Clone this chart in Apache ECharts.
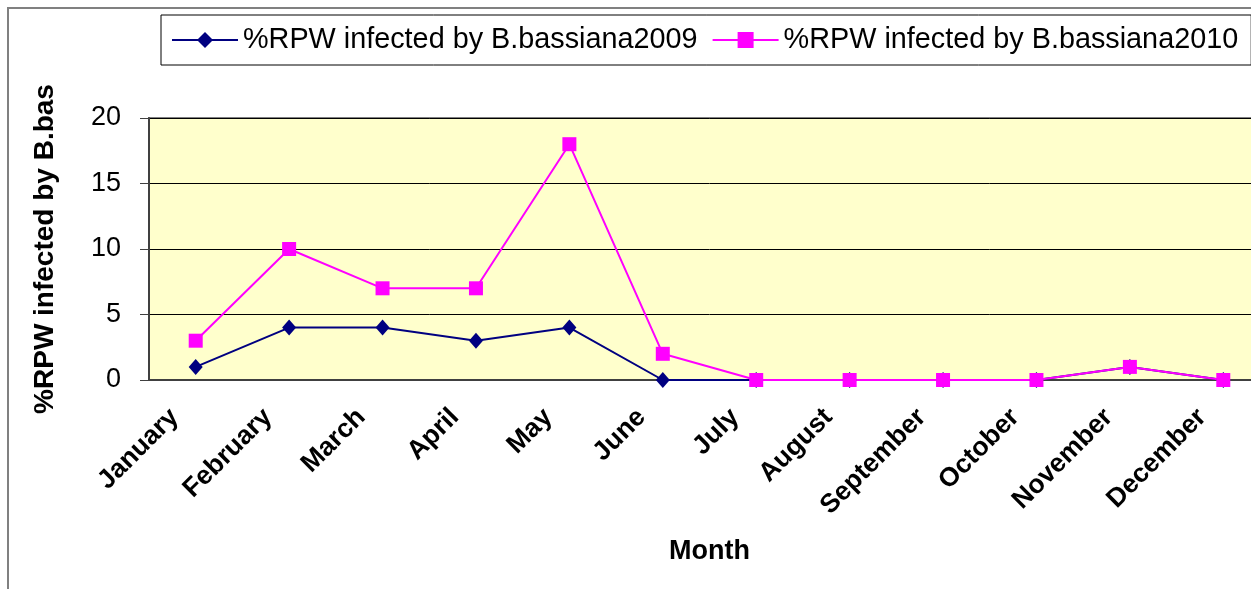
<!DOCTYPE html>
<html>
<head>
<meta charset="utf-8">
<script src="https://cdn.jsdelivr.net/npm/echarts@6/dist/echarts.min.js"></script>
<style>
    html, body { margin: 0; padding: 0; background: #fff; overflow: hidden; }
    /* 绘图区右侧在原图中被裁掉 所以容器比窗口略宽 */
    #chart { width: 1270px; height: 589px; }
</style>
</head>
<body>
<div id="chart"></div>
<script>
const months = ['January', 'February', 'March', 'April', 'May', 'June',
    'July', 'August', 'September', 'October', 'November', 'December']
const infected2009 = [1, 4, 4, 3, 4, 0, 0, 0, 0, 0, 1, 0]
const infected2010 = [3, 10, 7, 7, 18, 2, 0, 0, 0, 0, 1, 0]
const yTicks = [0, 5, 10, 15, 20]

const FONT = '"Liberation Sans", Arial, sans-serif'

window.addEventListener('load', renderChart)

function renderChart() {
    const chart = echarts.init(document.querySelector('#chart'))

    const option = {
        animation: false,
        textStyle: { fontFamily: FONT },
        // 外框
        graphic: [
            {
                type: 'rect',
                shape: { x: 8, y: 8, width: 1300, height: 700 },
                style: { fill: 'none', stroke: '#808080', lineWidth: 2 },
                silent: true,
            }
        ],
        legend: {
            left: 161,
            top: 15,
            padding: [10, 13, 10, 10],
            itemGap: 14,
            itemWidth: 66,
            itemHeight: 20,
            borderColor: '#000',
            borderWidth: 1,
            textStyle: {
                fontFamily: FONT,
                fontSize: 28.8,
                color: '#000',
                lineHeight: 30,
            },
        },
        grid: {
            left: 149,
            top: 118,
            right: 0,
            height: 262,
            show: true,
            backgroundColor: '#FFFFCC',
            borderColor: '#808080',
            borderWidth: 2,
        },
        xAxis: {
            type: 'category',
            data: months,
            boundaryGap: true,
            name: 'Month',
            nameLocation: 'middle',
            nameGap: 158,
            nameTextStyle: {
                fontFamily: FONT,
                fontSize: 27,
                fontWeight: 'bold',
                color: '#000',
            },
            axisLine: { lineStyle: { color: '#404040', width: 2 } },
            axisTick: { length: 9, lineStyle: { color: '#404040' } },
            axisLabel: {
                rotate: 45,
                interval: 0,
                margin: 12,
                padding: [0, 30, 0, 0],
                fontFamily: FONT,
                fontSize: 26.5,
                fontWeight: 'bold',
                color: '#000',
            },
        },
        yAxis: {
            type: 'value',
            min: yTicks[0],
            max: yTicks[yTicks.length - 1],
            interval: 5,
            name: '%RPW infected by B.bas',
            nameLocation: 'middle',
            nameGap: 90,
            nameTextStyle: {
                fontFamily: FONT,
                fontSize: 28,
                fontWeight: 'bold',
                color: '#000',
            },
            axisLine: { show: true, lineStyle: { color: '#404040', width: 2 } },
            axisTick: { show: true, length: 9, lineStyle: { color: '#404040' } },
            axisLabel: {
                margin: 28,
                fontFamily: FONT,
                fontSize: 27,
                color: '#000',
            },
            splitLine: { show: true, lineStyle: { color: '#000', width: 1 } },
        },
        series: [
            {
                name: '%RPW infected by B.bassiana2009',
                type: 'line',
                data: infected2009,
                symbol: 'diamond',
                symbolSize: [14, 16],
                itemStyle: { color: '#000080' },
                lineStyle: { color: '#000080', width: 2 },
            },
            {
                name: '%RPW infected by B.bassiana2010',
                type: 'line',
                data: infected2010,
                symbol: 'rect',
                symbolSize: 14,
                itemStyle: { color: '#FF00FF' },
                lineStyle: { color: '#FF00FF', width: 2 },
            }
        ]
    }

    chart.setOption(option)
}
</script>
</body>
</html>
